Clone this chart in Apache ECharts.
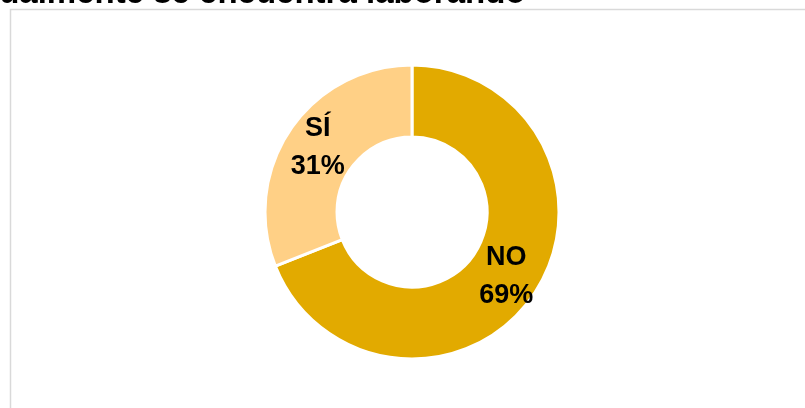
<!DOCTYPE html>
<html>
<head>
<meta charset="utf-8">
<script src="https://cdn.jsdelivr.net/npm/echarts@6/dist/echarts.min.js"></script>
<style>html,body{margin:0;padding:0;background:#fff}#c{width:805px;height:408px}</style>
</head>
<body>
<div id="c"></div>
<script>
const titleText = 'Actualmente se encuentra laborando';
const categories = ['NO', 'SÍ'];
const values = [69, 31];
const colors = ['#E2AA00', '#FFD086'];

const chart = echarts.init(document.getElementById('c'), null, {renderer: 'canvas'});
chart.setOption({
  animation: false,
  graphic: [
    {type: 'rect', shape: {x: 10.5, y: 9.5, width: 900, height: 500}, style: {fill: 'none', stroke: '#D9D9D9', lineWidth: 1.5}, z: 0},
    {type: 'text', x: -54, y: 10, style: {text: titleText, font: 'bold 33px "Liberation Sans", Arial, sans-serif', fill: '#000', textAlign: 'left', textVerticalAlign: 'bottom'}, z: 10}
  ],
  series: [{
    type: 'pie',
    center: [412, 212],
    radius: [75, 147],
    startAngle: 90,
    clockwise: true,
    itemStyle: {borderColor: '#fff', borderWidth: 3},
    label: {
      show: true,
      position: 'inside',
      formatter: p => p.name + '\n' + p.percent.toFixed(0) + '%',
      fontFamily: '"Liberation Sans", Arial, sans-serif',
      fontWeight: 'bold',
      fontSize: 27,
      lineHeight: 38,
      color: '#000'
    },
    labelLine: {show: false},
    emphasis: {disabled: true},
    data: categories.map((c, i) => ({name: c, value: values[i], itemStyle: {color: colors[i]}}))
  }]
});
</script>
</body>
</html>
